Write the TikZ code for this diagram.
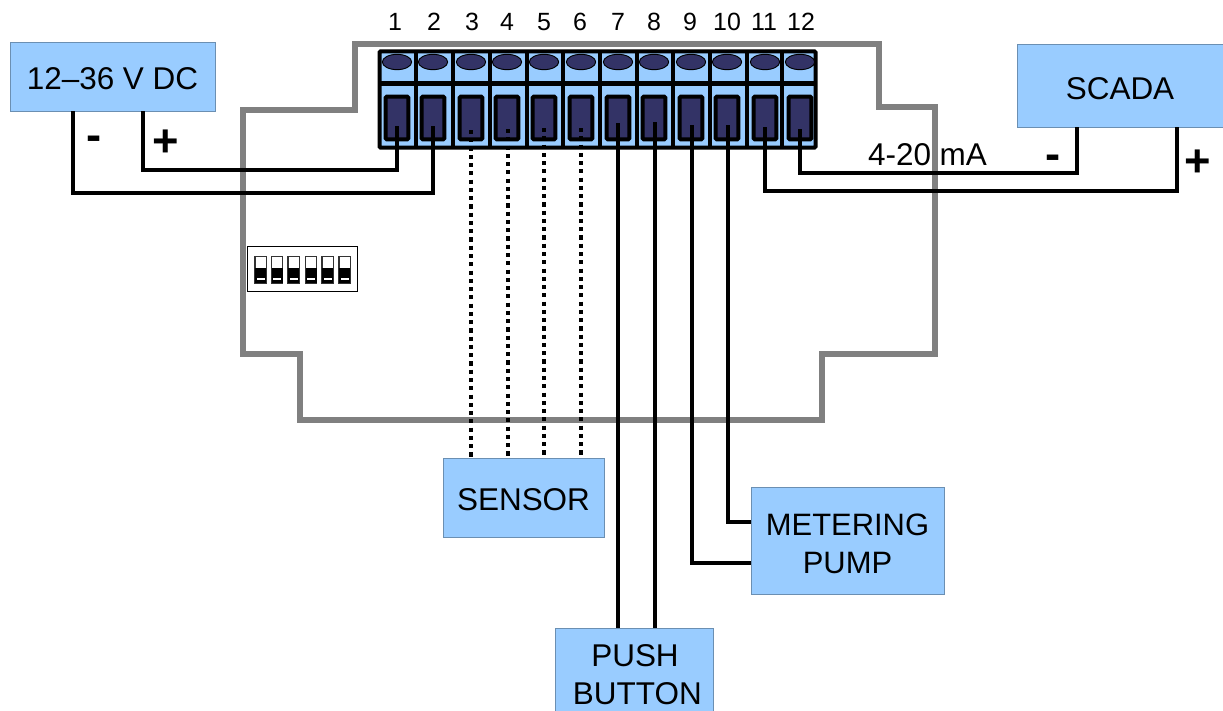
\documentclass[tikz,border=0pt]{standalone}
\usepackage{fontspec}
\setmainfont{Liberation Sans}
\usetikzlibrary{shapes.geometric}
\definecolor{boxblue}{HTML}{99CCFF}
\definecolor{termdark}{HTML}{333366}
\definecolor{shell}{HTML}{808080}
\tikzset{
  x=0.75pt,y=-0.75pt,
  every node/.style={inner sep=0pt,outer sep=0pt},
  devbox/.style={draw=boxblue!70!black,line width=0.5pt,fill=boxblue,align=center,text depth=0pt,font=\fontsize{23.6}{28.5}\selectfont},
  shellline/.style={draw=shell,line width=4.2pt,miter limit=10},
  wire/.style={draw=black,line width=2.9pt},
  dotwire/.style={draw=black,line width=3pt,dash pattern=on 3.1pt off 3.1pt},
  termnum/.style={font=\fontsize{18.7}{20}\selectfont},
  sign/.style={font=\fontsize{34}{34}\bfseries\selectfont},
  screw/.style={ellipse,draw=black,line width=0.7pt,fill=termdark,minimum width=22pt,minimum height=11.5pt},
  clamp/.style={draw=black,line width=3pt,rounded corners=0.8pt,fill=termdark,minimum width=17pt,minimum height=32pt},
  dipsw/.style={draw=black!80,line width=1pt,fill=white,minimum width=8.5pt,minimum height=20pt}
}
\begin{document}
\begin{tikzpicture}
\useasboundingbox (0,0) rectangle (1223,710);
% enclosure
\draw[shellline] (355,44) -- (879,44) -- (879,107) -- (935,107) -- (935,354) -- (822,354) -- (822,420) -- (300,420) -- (300,354) -- (243,354) -- (243,110) -- (355,110) -- cycle;
% terminal block
\node[draw=black,line width=3pt,fill=boxblue,rounded corners=0.8pt,minimum width=327pt,minimum height=72pt,anchor=north west] (block) at (379.5,51.5) {};
\draw[black,line width=3pt] (block.west |- 0,83.5) -- (block.east |- 0,83.5);
\foreach \x in {416,453,490,527,563,600,637,673,710,747,782}
  \draw[black,line width=3pt] (\x,51) -- (\x,148);
\foreach \n/\cx/\nx in {1/397/395,2/433/434,3/471/472,4/507/507,5/544/544,6/581/580,7/618/618,8/654/654,9/691/690,10/727/727,11/765/764,12/800/801}{
  \node[screw] (s\n) at (\cx,62) {};
  \node[clamp] (c\n) at (\cx,118) {};
  \node[termnum] (n\n) at (\nx,22) {\n};
}
% wire end points
\coordinate (w1) at (397,126);
\coordinate (w2) at (433,126);
\coordinate (w3) at (471,130);
\coordinate (w4) at (508,129);
\coordinate (w5) at (544,128);
\coordinate (w6) at (581,128);
\coordinate (w7) at (618,123);
\coordinate (w8) at (655,122);
\coordinate (w9) at (692,125);
\coordinate (w10) at (728,125);
\coordinate (w11) at (765,127);
\coordinate (w12) at (800,129);
% devices
\node[devbox,text height=20pt,minimum width=153.75pt,minimum height=51.75pt] (psu) at (112.5,76.5) {12–36 V DC};
\node[devbox,text height=21.5pt,minimum width=154.5pt,minimum height=62.25pt] (scada) at (1120,85.5) {SCADA};
\node[devbox,text height=20pt,minimum width=120.75pt,minimum height=59.25pt] (sensor) at (523.5,497.5) {SENSOR};
\node[devbox,text height=50pt,minimum width=144.75pt,minimum height=80.25pt,font=\fontsize{23.2}{28.5}\selectfont] (pump) at (847.5,540.5) {METERING\\PUMP};
\node[devbox,text height=53pt,minimum width=118.5pt,minimum height=62pt] (button) at (634,669.5) {\hspace*{1.5pt}PUSH\\\hspace*{5pt}BUTTON};
% wires
\coordinate (psuneg) at (73,111);
\coordinate (psupos) at (143,111);
\coordinate (scneg) at (1077,127);
\coordinate (scpos) at (1177,127);
\draw[wire] (psuneg) -- (73,193) -| (w2);
\draw[wire] (psupos) -- (143,170) -| (w1);
\draw[wire] (scneg) -- (1077,173) -| (w12);
\draw[wire] (scpos) -- (1177,191) -| (w11);
\foreach \n/\x in {3/471,4/508,5/544,6/581}
  \draw[dotwire] (w\n) -- (\x,458);
\draw[wire] (w7) -- (w7 |- button.north);
\draw[wire] (w8) -- (w8 |- button.north);
\draw[wire] (w9) |- (pump.west |- 0,563);
\draw[wire] (w10) |- (pump.west |- 0,522);
% signs
\node[sign] (minusa) at (94,143) {-};
\node[sign] (plusa) at (166,143) {+};
\node[sign] (minusb) at (1053,162) {-};
\node[sign] (plusb) at (1198,163) {+};
\node[font=\fontsize{23.6}{28}\selectfont] (ma) at (927.5,155) {4-20 mA};
% DIP switch
\node[draw=black,line width=1.2pt,fill=white,minimum width=82.5pt,minimum height=34pt] (dip) at (302.5,269) {};
\foreach \x in {260.5,277,293.5,311,327.5,344.5}{
  \node[dipsw] at (\x,269.5) {};
  \fill[black] (\x-5.5,268) rectangle (\x+5.5,283);
  \fill[white] (\x-4,277.5) rectangle (\x+4,279.5);
}
\end{tikzpicture}
\end{document}
